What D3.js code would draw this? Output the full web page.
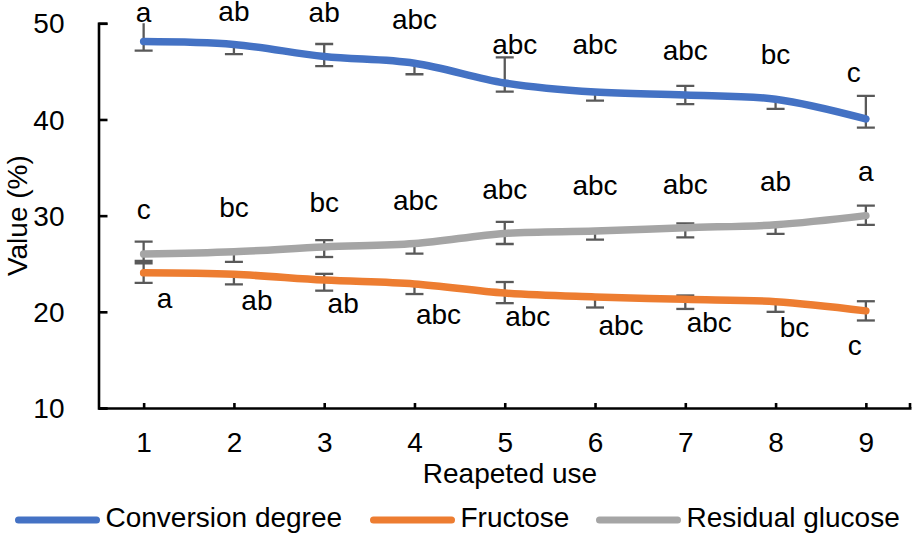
<!DOCTYPE html>
<html>
<head>
<meta charset="utf-8">
<script src="https://cdn.jsdelivr.net/npm/d3@7"></script>
<style>
  body { margin: 0; background: #fff; }
  text { font-family: "Liberation Sans", Arial, sans-serif; fill: #000; }
</style>
</head>
<body>
<script>
// data
var uses = [1, 2, 3, 4, 5, 6, 7, 8, 9];
var yTicks = [10, 20, 30, 40, 50];

var conversion    = [48.1, 47.8, 46.55, 45.85, 43.8, 42.85, 42.55, 42.1, 40.05];
var conversionUp  = [2.5, 0, 1.3, 0, 2.65, 0, 0.95, 0, 2.4];
var conversionDn  = [0.95, 1.0, 1.0, 1.15, 0.9, 0.9, 0.95, 1.0, 0.9];
var conversionTag = ["a", "ab", "ab", "abc", "abc", "abc", "abc", "bc", "c"];

var fructose      = [24.05, 23.9, 23.3, 22.9, 21.95, 21.55, 21.3, 21.05, 20.1];
var fructoseUp    = [1.0, 0, 0.65, 0, 1.15, 0, 0.4, 0, 1.0];
var fructoseDn    = [1.05, 1.05, 1.1, 1.05, 1.05, 1.1, 1.0, 1.05, 1.0];
var fructoseTag   = ["a", "ab", "ab", "abc", "abc", "abc", "abc", "bc", "c"];

var glucose       = [26.0, 26.25, 26.75, 27.1, 28.15, 28.4, 28.75, 29.05, 30.0];
var glucoseUp     = [1.3, 0, 0.7, 0, 1.2, 0, 0.45, 0, 1.05];
var glucoseDn     = [0.7, 1.05, 1.05, 1.05, 1.1, 0.9, 1.0, 0.95, 0.95];
var glucoseTag    = ["c", "bc", "bc", "abc", "abc", "abc", "abc", "ab", "a"];

// where each letter label sits relative to its point, in px [dx, dy of baseline]
var conversionLabelPos = [[0, -20], [0, -23], [0, -34], [0, -34], [10, -29], [0, -38], [0, -35], [0, -35], [-12, -37]];
var glucoseLabelPos    = [[0, -35], [0, -35], [0, -35], [1, -34], [0, -34], [0, -36], [0, -34], [0, -34], [0, -35]];
var fructoseLabelPos   = [[21, 35], [23, 36], [19, 33], [24, 40], [23, 33], [26, 38], [24, 33], [19, 35], [-11, 44]];

var series = [
  { name: "Conversion degree", color: "#4472C4", values: conversion, up: conversionUp, dn: conversionDn, tags: conversionTag, pos: conversionLabelPos },
  { name: "Fructose", color: "#ED7D31", values: fructose, up: fructoseUp, dn: fructoseDn, tags: fructoseTag, pos: fructoseLabelPos },
  { name: "Residual glucose", color: "#A5A5A5", values: glucose, up: glucoseUp, dn: glucoseDn, tags: glucoseTag, pos: glucoseLabelPos }
];

var width = 916, height = 536;
var margin = { left: 98.5, right: 911, top: 23.3, bottom: 408 };
var fontSize = 28;

var svg = d3.select('body')
  .append('svg')
  .attr('width', width)
  .attr('height', height);

var x = d3.scalePoint()
  .domain(uses)
  .range([margin.left, margin.right])
  .padding(0.5);

var y = d3.scaleLinear()
  .domain([10, 50])
  .range([margin.bottom, margin.top]);

svg.append('clipPath')
  .attr('id', 'plot')
  .append('rect')
  .attr('x', margin.left)
  .attr('y', margin.top)
  .attr('width', margin.right - margin.left)
  .attr('height', margin.bottom - margin.top);

var plot = svg.append('g').attr('clip-path', 'url(#plot)');

// error bars go under the lines
var capHalf = 9;
series.forEach(function(s) {
  var g = plot.append('g')
    .attr('stroke', '#595959')
    .attr('stroke-width', 2.3)
    .attr('fill', 'none');
  s.values.forEach(function(v, i) {
    var cx = x(uses[i]);
    var y0 = y(v + s.up[i]), y1 = y(v - s.dn[i]);
    g.append('line').attr('x1', cx).attr('x2', cx).attr('y1', y0).attr('y2', y1);
    if (s.up[i] > 0) {
      g.append('line').attr('x1', cx - capHalf).attr('x2', cx + capHalf).attr('y1', y0).attr('y2', y0);
    }
    g.append('line').attr('x1', cx - capHalf).attr('x2', cx + capHalf).attr('y1', y1).attr('y2', y1);
  });
});

var line = d3.line()
  .x(function(d, i) { return x(uses[i]); })
  .y(function(d) { return y(d); })
  .curve(d3.curveCatmullRom.alpha(0.5));

series.forEach(function(s) {
  svg.append('path')
    .attr('d', line(s.values))
    .attr('fill', 'none')
    .attr('stroke', s.color)
    .attr('stroke-width', 7.5)
    .attr('stroke-linecap', 'round')
    .attr('stroke-linejoin', 'round');
});

// letter labels
series.forEach(function(s) {
  svg.append('g')
    .selectAll('text')
    .data(s.tags)
    .enter()
    .append('text')
    .attr('x', function(d, i) { return x(uses[i]) + s.pos[i][0]; })
    .attr('y', function(d, i) { return y(s.values[i]) + s.pos[i][1]; })
    .attr('text-anchor', 'middle')
    .style('font-size', fontSize + 'px')
    .text(function(d) { return d; });
});

// axes
var yAxis = d3.axisLeft(y)
  .tickValues(yTicks)
  .tickSize(-9)
  .tickPadding(34)
  .tickFormat(d3.format('d'));

var yg = svg.append('g')
  .attr('transform', 'translate(' + margin.left + ',0)')
  .call(yAxis);
yg.select('.domain').attr('stroke', '#000').attr('stroke-width', 2.6);
yg.selectAll('.tick line').attr('stroke', '#000').attr('stroke-width', 2.6);
yg.selectAll('.tick text')
  .style('font-size', fontSize + 'px')
  .style('font-family', '"Liberation Sans", Arial, sans-serif')
  .attr('dy', '0.34em');

var xAxis = d3.axisBottom(x)
  .tickSizeInner(-5)
  .tickSizeOuter(0)
  .tickPadding(24);

var xg = svg.append('g')
  .attr('transform', 'translate(0,' + margin.bottom + ')')
  .call(xAxis);
xg.select('.domain').attr('stroke', '#000').attr('stroke-width', 2.6);
xg.selectAll('.tick line').attr('stroke', '#000').attr('stroke-width', 2.6);
xg.selectAll('.tick text')
  .style('font-size', fontSize + 'px')
  .style('font-family', '"Liberation Sans", Arial, sans-serif');

// tick at the right end of the category axis
xg.append('line')
  .attr('x1', margin.right - 1).attr('x2', margin.right - 1)
  .attr('y1', 0).attr('y2', -5)
  .attr('stroke', '#000').attr('stroke-width', 2.6);

svg.append('text')
  .attr('x', 510)
  .attr('y', 483)
  .attr('text-anchor', 'middle')
  .style('font-size', fontSize + 'px')
  .text('Reapeted use');

svg.append('text')
  .attr('transform', 'translate(27,' + ((margin.top + margin.bottom) / 2) + ') rotate(-90)')
  .attr('text-anchor', 'middle')
  .style('font-size', fontSize + 'px')
  .text('Value (%)');

// legend
var legendX = [18.5, 373.5, 599.5];
var legend = svg.append('g');
series.forEach(function(s, i) {
  legend.append('line')
    .attr('x1', legendX[i]).attr('x2', legendX[i] + 78)
    .attr('y1', 520).attr('y2', 520)
    .attr('stroke', s.color)
    .attr('stroke-width', 7)
    .attr('stroke-linecap', 'round');
  legend.append('text')
    .attr('x', legendX[i] + 87)
    .attr('y', 527)
    .style('font-size', fontSize + 'px')
    .text(s.name);
});
</script>
</body>
</html>
